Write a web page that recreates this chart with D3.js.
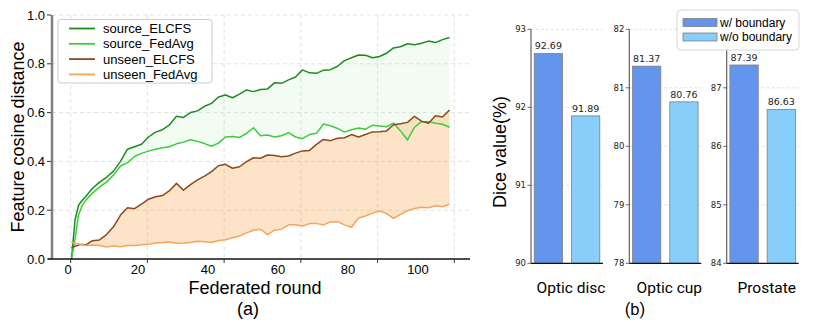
<!DOCTYPE html>
<html>
<head>
<meta charset="utf-8">
<script src="https://cdn.jsdelivr.net/npm/d3@7"></script>
<style>
  body { margin: 0; background: #fff; }
  svg { display: block; }
</style>
</head>
<body>
<div id="chartDiv"></div>
<script>
// ---- data (a): feature cosine distance per federated round ----
var rounds = [1, 2, 3, 4, 5, 7, 9, 11, 13, 15, 17, 19, 21, 23, 25, 27, 29, 31, 33, 35, 37, 39,
  41, 43, 45, 47, 49, 51, 53, 55, 57, 59, 61, 63, 65, 67, 69, 71, 73, 75, 77, 79, 81, 83,
  85, 87, 89, 91, 93, 95, 97, 99, 101, 103, 105, 107, 109];

var sourceELCFS = [0.0, 0.16, 0.22, 0.24, 0.255, 0.29, 0.315, 0.335, 0.36, 0.40, 0.45, 0.46,
  0.47, 0.50, 0.52, 0.53, 0.55, 0.585, 0.58, 0.60, 0.607, 0.626, 0.638, 0.664, 0.672, 0.661,
  0.676, 0.693, 0.686, 0.695, 0.697, 0.722, 0.72, 0.734, 0.746, 0.775, 0.763, 0.761, 0.774,
  0.776, 0.79, 0.813, 0.825, 0.836, 0.835, 0.825, 0.83, 0.843, 0.865, 0.87, 0.882, 0.878,
  0.884, 0.893, 0.887, 0.899, 0.908];

var sourceFedAvg = [0.0, 0.08, 0.18, 0.217, 0.24, 0.27, 0.295, 0.315, 0.344, 0.381, 0.395,
  0.42, 0.433, 0.442, 0.45, 0.456, 0.46, 0.472, 0.479, 0.489, 0.482, 0.473, 0.462, 0.475,
  0.50, 0.502, 0.498, 0.515, 0.538, 0.505, 0.508, 0.50, 0.505, 0.518, 0.50, 0.493, 0.51,
  0.515, 0.553, 0.546, 0.535, 0.52, 0.53, 0.537, 0.532, 0.548, 0.545, 0.542, 0.557, 0.525,
  0.488, 0.54, 0.563, 0.563, 0.556, 0.552, 0.54];

var unseenELCFS = [0.046, 0.052, 0.057, 0.06, 0.057, 0.075, 0.078, 0.10, 0.132, 0.18, 0.21,
  0.206, 0.225, 0.245, 0.255, 0.26, 0.28, 0.31, 0.282, 0.305, 0.324, 0.34, 0.358, 0.382,
  0.388, 0.372, 0.378, 0.399, 0.415, 0.413, 0.426, 0.424, 0.419, 0.422, 0.434, 0.443, 0.445,
  0.47, 0.49, 0.485, 0.495, 0.497, 0.51, 0.50, 0.51, 0.521, 0.522, 0.525, 0.55, 0.554, 0.56,
  0.585, 0.565, 0.556, 0.587, 0.582, 0.611];

var unseenFedAvg = [0.068, 0.066, 0.062, 0.058, 0.055, 0.057, 0.055, 0.049, 0.054, 0.05,
  0.055, 0.055, 0.058, 0.06, 0.066, 0.068, 0.07, 0.065, 0.066, 0.068, 0.073, 0.071, 0.068,
  0.076, 0.079, 0.087, 0.094, 0.107, 0.118, 0.122, 0.10, 0.118, 0.122, 0.14, 0.14, 0.135,
  0.145, 0.145, 0.14, 0.152, 0.153, 0.14, 0.13, 0.168, 0.176, 0.188, 0.197, 0.186, 0.167,
  0.183, 0.198, 0.207, 0.212, 0.21, 0.218, 0.214, 0.225];

var seriesNames = ["source_ELCFS", "source_FedAvg", "unseen_ELCFS", "unseen_FedAvg"];
var xTickLabels = [0, 20, 40, 60, 80, 100];
var yTickLabels = [0.0, 0.2, 0.4, 0.6, 0.8, 1.0];

// ---- data (b): dice value per task ----
var categories = ["Optic disc", "Optic cup", "Prostate"];
var withBoundary = [92.69, 81.37, 87.39];
var withoutBoundary = [91.89, 80.76, 86.63];
var yMin = [90, 78, 84];
var yMax = [93, 82, 88];
var barLegend = ["w/ boundary", "w/o boundary"];

// styles
var lineColors = ["#1e8c1e", "#3ccc3c", "#8c4a1e", "#f5a45e"];
var barColors = ["#6495ed", "#87cefa"];
var gridColor = "#d9d9d9";

var svg = d3.select("#chartDiv").append("svg")
  .attr("width", 813)
  .attr("height", 322);

//////////// panel (a)
var x = d3.scaleLinear().domain([0, 110]).range([68, 453]);
var gx = d3.scaleLinear().domain([0, 100]).range([70.7, 454.3]); // grid/tick positions
var y = d3.scaleLinear().domain([0, 1]).range([259, 15]);

var a = svg.append("g");

// grid
a.selectAll(".hgrid").data(yTickLabels.slice(1))
  .enter().append("line")
  .attr("x1", 52).attr("x2", 470)
  .attr("y1", function(d) { return y(d); }).attr("y2", function(d) { return y(d); })
  .attr("stroke", gridColor).attr("stroke-width", 0.8).attr("stroke-dasharray", "4,3");

a.selectAll(".vgrid").data(xTickLabels)
  .enter().append("line")
  .attr("x1", function(d) { return gx(d); }).attr("x2", function(d) { return gx(d); })
  .attr("y1", 15).attr("y2", 259)
  .attr("stroke", gridColor).attr("stroke-width", 0.8).attr("stroke-dasharray", "4,3");

var pts = rounds.map(function(r, i) {
  return { r: r, sE: sourceELCFS[i], sF: sourceFedAvg[i], uE: unseenELCFS[i], uF: unseenFedAvg[i] };
});

// shaded bands
a.append("path").datum(pts)
  .attr("d", d3.area().x(function(d) { return x(d.r); })
    .y0(function(d) { return y(d.sF); }).y1(function(d) { return y(d.sE); }))
  .attr("fill", "#86e886").attr("fill-opacity", 0.11);

a.append("path").datum(pts)
  .attr("d", d3.area().x(function(d) { return x(d.r); })
    .y0(function(d) { return y(d.uF); }).y1(function(d) { return y(d.uE); }))
  .attr("fill", "#f8a64a").attr("fill-opacity", 0.3);

// lines
var keys = ["sE", "sF", "uE", "uF"];
keys.forEach(function(k, i) {
  a.append("path").datum(pts)
    .attr("d", d3.line().x(function(d) { return x(d.r); }).y(function(d) { return y(d[k]); }))
    .attr("fill", "none")
    .attr("stroke", lineColors[i])
    .attr("stroke-width", 1.5)
    .attr("stroke-linejoin", "round");
});

// axes
a.append("line").attr("x1", 52).attr("x2", 52).attr("y1", 15).attr("y2", 259)
  .attr("stroke", "#808080").attr("stroke-width", 2.5);
a.append("line").attr("x1", 48).attr("x2", 470).attr("y1", 259).attr("y2", 259)
  .attr("stroke", "#111").attr("stroke-width", 1.5);

a.selectAll(".ytick").data(yTickLabels).enter().append("line")
  .attr("x1", 47).attr("x2", 51)
  .attr("y1", function(d) { return y(d); }).attr("y2", function(d) { return y(d); })
  .attr("stroke", "#333").attr("stroke-width", 1);
a.selectAll(".ylab").data(yTickLabels).enter().append("text")
  .attr("x", 45).attr("y", function(d) { return y(d) + 4.5; })
  .attr("text-anchor", "end")
  .style("font", "13px 'Liberation Sans', Arial, sans-serif")
  .text(function(d) { return d.toFixed(1); });

a.selectAll(".xtick").data(xTickLabels).enter().append("line")
  .attr("x1", function(d) { return gx(d); }).attr("x2", function(d) { return gx(d); })
  .attr("y1", 259).attr("y2", 263)
  .attr("stroke", "#333").attr("stroke-width", 1);
a.selectAll(".xlab").data(xTickLabels).enter().append("text")
  .attr("x", function(d) { return x(d); }).attr("y", 274)
  .attr("text-anchor", "middle")
  .style("font", "13px 'Liberation Sans', Arial, sans-serif")
  .text(function(d) { return d; });

a.append("text").attr("x", 255).attr("y", 294).attr("text-anchor", "middle")
  .style("font", "18px 'Liberation Sans', Arial, sans-serif").text("Federated round");
a.append("text").attr("x", 248).attr("y", 315).attr("text-anchor", "middle")
  .style("font", "18px 'Liberation Sans', Arial, sans-serif").text("(a)");
a.append("text")
  .attr("transform", "translate(24,137) rotate(-90)")
  .attr("text-anchor", "middle")
  .style("font", "18px 'Liberation Sans', Arial, sans-serif")
  .text("Feature cosine distance");

// legend
var leg = a.append("g");
leg.append("rect").attr("x", 58).attr("y", 19.5).attr("width", 154).attr("height", 63.5)
  .attr("rx", 3).attr("fill", "#fff").attr("stroke", "#cccccc").attr("stroke-width", 1);
seriesNames.forEach(function(n, i) {
  var ly = 28.5 + i * 15.3;
  leg.append("line").attr("x1", 69).attr("x2", 95).attr("y1", ly).attr("y2", ly)
    .attr("stroke", lineColors[i]).attr("stroke-width", 1.8);
  leg.append("text").attr("x", 103).attr("y", ly + 4.5)
    .style("font", "13px 'Liberation Sans', Arial, sans-serif").text(n);
});

//////////// panel (b)
var subLeft = [531, 629.3, 726.7];
var subWidth = 72;

categories.forEach(function(cat, i) {
  var g = svg.append("g");
  var yb = d3.scaleLinear().domain([yMin[i], yMax[i]]).range([263.3, 29.3]);
  var xb = d3.scaleBand().domain([0, 1])
    .range([subLeft[i], subLeft[i] + subWidth])
    .paddingInner(0.24).paddingOuter(0.086);
  var ticks = d3.range(yMin[i], yMax[i] + 1);

  g.selectAll(".grid").data(ticks.slice(1)).enter().append("line")
    .attr("x1", subLeft[i]).attr("x2", subLeft[i] + subWidth)
    .attr("y1", function(d) { return yb(d); }).attr("y2", function(d) { return yb(d); })
    .attr("stroke", gridColor).attr("stroke-width", 0.8).attr("stroke-dasharray", "3,2");

  var vals = [withBoundary[i], withoutBoundary[i]];
  g.selectAll(".bar").data(vals).enter().append("rect")
    .attr("x", function(d, j) { return xb(j); })
    .attr("width", xb.bandwidth())
    .attr("y", function(d) { return yb(d); })
    .attr("height", function(d) { return yb(yMin[i]) - yb(d); })
    .attr("fill", function(d, j) { return barColors[j]; })
    .attr("stroke", "#7f7f7f").attr("stroke-width", 0.8);

  g.selectAll(".val").data(vals).enter().append("text")
    .attr("x", function(d, j) { return xb(j) + xb.bandwidth() / 2; })
    .attr("y", function(d) { return yb(d) - 4; })
    .attr("text-anchor", "middle")
    .attr("fill", "#222")
    .style("font", "9.5px 'DejaVu Sans', sans-serif")
    .text(function(d) { return d.toFixed(2); });

  g.append("line").attr("x1", subLeft[i]).attr("x2", subLeft[i])
    .attr("y1", 29.3).attr("y2", 263.3).attr("stroke", "#555").attr("stroke-width", 1.1);
  g.append("line").attr("x1", subLeft[i]).attr("x2", subLeft[i] + subWidth)
    .attr("y1", 263.3).attr("y2", 263.3).attr("stroke", "#111").attr("stroke-width", 1.3);

  g.selectAll(".tk").data(ticks).enter().append("line")
    .attr("x1", subLeft[i] - 3.5).attr("x2", subLeft[i])
    .attr("y1", function(d) { return yb(d); }).attr("y2", function(d) { return yb(d); })
    .attr("stroke", "#444").attr("stroke-width", 0.8);
  g.selectAll(".tl").data(ticks).enter().append("text")
    .attr("x", subLeft[i] - 5).attr("y", function(d) { return yb(d) + 3; })
    .attr("text-anchor", "end")
    .attr("fill", "#222")
    .style("font", "8.5px 'DejaVu Sans', sans-serif")
    .text(function(d) { return d; });

  g.append("text")
    .attr("x", subLeft[i] + subWidth / 2 + 4).attr("y", 292.5)
    .attr("text-anchor", "middle")
    .style("font", "15.5px Roboto, sans-serif")
    .text(cat);
});

svg.append("text").attr("x", 635).attr("y", 315).attr("text-anchor", "middle")
  .style("font", "16.5px Roboto, sans-serif").text("(b)");
svg.append("text")
  .attr("transform", "translate(506,152) rotate(-90)")
  .attr("text-anchor", "middle")
  .style("font", "18px 'Liberation Sans', Arial, sans-serif")
  .text("Dice value(%)");

// bar legend
var bl = svg.append("g");
bl.append("rect").attr("x", 677).attr("y", 10).attr("width", 122).attr("height", 40)
  .attr("rx", 4).attr("fill", "#fff").attr("stroke", "#d6d6d6").attr("stroke-width", 1);
barLegend.forEach(function(n, j) {
  var ly = 22.5 + j * 14.5;
  bl.append("rect").attr("x", 683).attr("y", ly - 4).attr("width", 34).attr("height", 8)
    .attr("fill", barColors[j]).attr("stroke", "#7f7f7f").attr("stroke-width", 0.8);
  bl.append("text").attr("x", 720).attr("y", ly + 4)
    .style("font", "12px 'Liberation Sans', Arial, sans-serif").text(n);
});
</script>
</body>
</html>
